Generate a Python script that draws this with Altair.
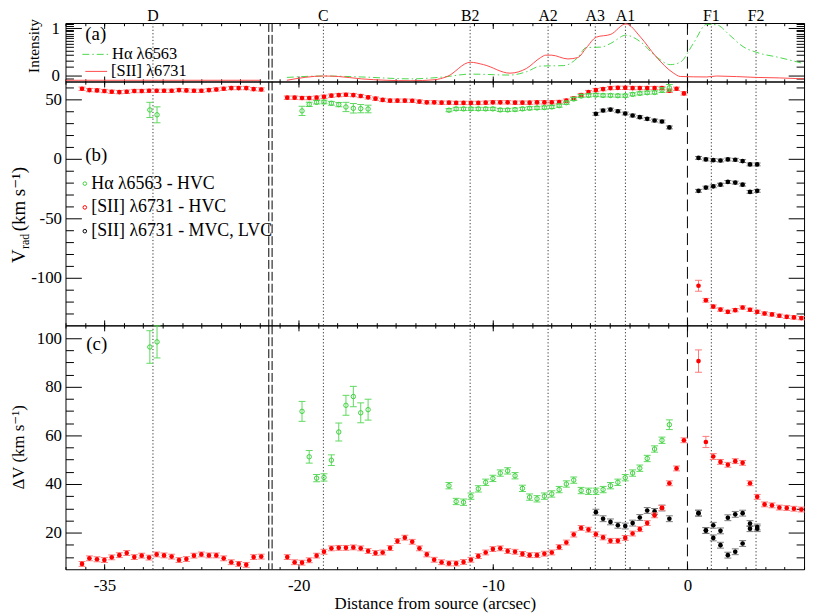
import altair as alt
import pandas as pd

FONT = "'Liberation Serif', 'Times New Roman', 'DejaVu Serif', serif"

# ---------------- layout / break ----------------
# Points left of the axis break are drawn shifted by +5 arcsec (label -35 sits at drawn -30)
BREAK_SHIFT = 5.0
BREAK_LINES = [-21.54, -21.37]
SOURCE_X = [0.0]

KNOT_NAMES = ["D", "C", "B2", "A2", "A3", "A1", "F1", "F2"]
KNOT_X = [-32.5, -18.73, -11.18, -7.17, -4.74, -3.19, 1.23, 3.53]

X_MAJOR = [-30, -20, -10, 0]
X_MAJOR_LABELS = ["-35", "-20", "-10", "0"]
X_MINOR = list(range(-32, 7))

# ---------------- panel (a): intensity profiles ----------------
SII_I_LEFT_X = [-37.0, -26.96]
SII_I_LEFT = [-0.10, -0.10]
SII_I_X = [-20.61, -18.73, -17.97, -16.78, -14.23, -13.04, -12.36, -11.17, -10.49, -9.13,
           -8.28, -7.55, -7.29, -7.0, -6.15, -5.64, -5.21, -4.69, -3.94, -3.17,
           -2.41, -1.64, -0.71, -0.37, 0.99, 1.50, 3.55, 4.73, 6.0]
SII_I = [-0.10, -0.01, -0.02, -0.07, -0.11, -0.09, -0.02, 0.28, 0.23, 0.05,
         0.15, 0.38, 0.43, 0.43, 0.35, 0.38, 0.58, 0.81, 0.87, 1.09,
         0.81, 0.41, 0.05, -0.02, -0.03, -0.01, -0.04, -0.05, -0.07]
HA_I_X = [-20.61, -18.73, -16.78, -14.23, -12.53, -11.17, -9.13, -8.28, -7.55, -6.36,
          -5.64, -5.21, -4.43, -3.94, -3.17, -2.41, -1.64, -0.88, -0.37, 0.31,
          0.99, 1.50, 2.18, 2.86, 3.55, 4.73, 6.0]
HA_I = [-0.04, -0.01, -0.03, -0.07, -0.03, 0.03, 0.01, 0.08, 0.20, 0.21,
        0.38, 0.59, 0.60, 0.68, 0.85, 0.71, 0.41, 0.23, 0.28, 0.68,
        1.08, 1.07, 0.85, 0.61, 0.49, 0.38, 0.25]

# ---------------- slit positions (arcsec from source) ----------------
X_LEFT = [-36.15, -35.77, -35.38, -35.00, -34.62, -34.23, -33.85, -33.46, -33.08, -32.70,
          -32.31, -31.93, -31.54, -31.16, -30.78, -30.39, -30.01, -29.62, -29.24, -28.86,
          -28.47, -28.09, -27.70, -27.32, -26.93]
X_RIGHT = [-20.59, -20.21, -19.83, -19.46, -19.08, -18.70, -18.32, -17.94, -17.57, -17.19,
           -16.81, -16.43, -16.05, -15.68, -15.30, -14.92, -14.54, -14.16, -13.79, -13.41,
           -13.03, -12.65, -12.27, -11.90, -11.52, -11.14, -10.76, -10.38, -10.01, -9.63,
           -9.25, -8.87, -8.49, -8.12, -7.74, -7.36, -6.98, -6.60, -6.23, -5.85,
           -5.47, -5.09, -4.71, -4.34, -3.96, -3.58, -3.20, -2.82, -2.45, -2.07,
           -1.69, -1.31, -0.93, -0.56, -0.18]
X_AFTER = [0.57, 0.95, 1.33, 1.70, 2.08, 2.46, 2.84, 3.22, 3.59, 3.97, 4.35, 4.73, 5.11, 5.48, 5.86]

# ---------------- [SII] 6731 HVC ----------------
SII_V_LEFT = [58.9, 57.8, 57.5, 57.0, 56.4, 56.1, 56.4, 57.0, 57.0, 57.2, 57.2, 57.2, 57.2,
              57.8, 57.5, 57.2, 57.2, 57.8, 58.3, 58.9, 59.5, 59.5, 59.5, 58.6, 58.3]
SII_V_RIGHT = [51.4, 51.4, 51.1, 51.1, 51.4, 52.2, 53.1, 53.6, 53.9, 53.6,
               52.8, 51.7, 50.6, 49.5, 48.9, 48.9, 48.9, 48.8, 48.1, 47.5,
               47.5, 47.2, 47.2, 47.0, 47.0, 47.0, 47.0, 47.2, 47.5, 47.5,
               47.5, 47.2, 47.2, 47.2, 47.5, 47.5, 47.5, 47.8, 48.9, 50.8,
               53.6, 56.1, 57.8, 58.6, 59.5, 59.7, 59.7, 59.5, 59.5, 59.5,
               59.5, 59.5, 57.2, 58.9, 55.0]
SII_V_AFTER = [-106.7, -118.9, -124.2, -126.7, -128.6, -127.2, -125.0, -126.9, -128.6, -130.0,
               -130.8, -131.9, -132.8, -133.3, -133.9]
SII_V_ERR = 1.4
SII_V_AFTER_ERR = [4.6, 1.6, 1.4, 1.4, 1.4, 1.4, 1.4, 1.4, 1.4, 1.4, 1.4, 1.4, 1.4, 1.4, 1.4]

SII_D_LEFT = [7.1, 9.4, 9.0, 8.7, 9.8, 10.7, 11.6, 9.9, 10.5, 9.7, 11.0, 10.6, 10.1,
              8.7, 9.1, 10.5, 11.0, 10.6, 10.6, 9.4, 7.8, 7.1, 6.7, 9.9, 10.1]
SII_D_RIGHT = [9.9, 7.8, 7.6, 8.6, 10.5, 12.1, 13.5, 13.7, 13.7, 13.9,
               13.5, 12.4, 11.6, 11.8, 13.6, 16.5, 17.9, 16.2, 13.5, 11.0,
               8.8, 7.8, 7.3, 7.3, 7.9, 8.8, 10.3, 11.8, 13.2, 13.5,
               12.4, 12.1, 11.2, 10.7, 10.7, 11.3, 11.8, 14.0, 15.9, 19.2,
               21.9, 21.2, 19.3, 18.0, 16.6, 16.6, 17.8, 19.6, 21.4, 23.9,
               27.1, 30.2, 40.3, 46.4, 58.0]
SII_D_AFTER = [90.6, 57.3, 51.3, 49.1, 47.9, 49.4, 48.7, 40.3, 34.7, 31.6, 31.2, 30.3, 30.1, 29.8, 29.5]
SII_D_ERR = 1.0
SII_D_AFTER_ERR = [4.6, 2.3, 1.2, 1.0, 1.0, 1.0, 1.0, 1.0, 1.0, 1.0, 1.0, 1.0, 1.0, 1.0, 1.0]

# ---------------- H-alpha HVC ----------------
HA_X_LEFT = [-32.66, -32.29]
HA_X_C = X_RIGHT[2:12]
HA_X_MAIN = X_RIGHT[22:53]
HA_V_LEFT = [41.1, 37.0]
HA_V_LEFT_ERR = [6.4, 6.7]
HA_V_C = [40.3, 45.8, 47.5, 47.8, 46.7, 45.6, 43.6, 42.5, 42.2, 41.9]
HA_V_C_ERR = [3.9, 1.8, 1.5, 1.5, 1.6, 1.8, 3.9, 4.0, 3.5, 3.2]
HA_V_MAIN = [40.9, 42.0, 42.0, 42.0, 42.0, 42.0, 42.0, 41.1, 41.1, 41.4,
             42.0, 42.5, 42.8, 43.1, 43.6, 44.7, 47.2, 50.3, 52.8, 53.3,
             53.6, 53.3, 53.3, 53.1, 53.1, 54.2, 55.0, 55.6, 55.8, 57.8, 59.7]
HA_V_MAIN_ERR = [1.3] * 29 + [2.0, 2.8]
HA_D_LEFT = [96.4, 98.5]
HA_D_LEFT_ERR = [6.7, 6.6]
HA_D_C = [69.9, 51.2, 42.4, 42.7, 49.8, 61.4, 72.4, 76.0, 69.3, 70.6]
HA_D_C_ERR = [4.1, 2.6, 1.5, 1.5, 2.2, 3.7, 4.1, 4.2, 4.1, 4.3]
HA_D_MAIN = [39.3, 32.8, 32.5, 35.0, 38.0, 40.7, 42.3, 44.5, 45.4, 43.4,
             38.2, 34.6, 33.9, 35.0, 35.9, 37.7, 40.0, 41.6, 37.3, 37.0,
             37.0, 37.7, 39.3, 40.7, 42.6, 44.5, 46.5, 50.5, 54.4, 58.0, 64.4]
HA_D_MAIN_ERR = [1.3] * 30 + [2.0]

# ---------------- [SII] 6731 MVC, LVC ----------------
MVC_X_A = X_RIGHT[42:53]
MVC_X_F = X_AFTER[:9]
MVC_V_A = [37.8, 40.6, 41.4, 40.0, 38.1, 36.4, 35.0, 33.6, 32.2, 31.4, 26.4]
MVC_V_F1 = [0.8, -0.5, -1.1, -1.4, -0.5, -0.8, -1.9, -4.7, -4.7]
MVC_V_F2 = [-26.9, -24.2, -23.1, -21.7, -19.4, -20.0, -21.7, -27.8, -26.9]
MVC_D_A = [28.4, 25.7, 24.4, 23.0, 22.7, 23.9, 26.2, 29.1, 28.7, 30.1, 25.7]
MVC_D_F1 = [28.0, 20.9, 23.0, 20.7, 26.1, 27.5, 28.0, 23.7, 22.3]
MVC_D_F2 = [28.0, 20.8, 17.8, 14.8, 10.7, 12.1, 15.5, 21.6, 21.6]
MVC_ERR = 1.2

# ---------------- texts ----------------
LEGEND_A = ["H\u03b1 \u03bb6563", "[SII] \u03bb6731"]
LEGEND_B = ["H\u03b1 \u03bb6563 - HVC", "[SII] \u03bb6731 - HVC", "[SII] \u03bb6731 - MVC, LVC"]
TAGS = ["(a)", "(b)", "(c)"]
X_TITLE = "Distance from source (arcsec)"

GREEN = "#3fcf3f"
GREEN_ERR = "#5fd95f"
GREEN_LINE = "#4cd84c"
RED = "#ff0000"
RED_ERR = "#ff7a7a"
RED_LINE = "#ff4a4a"
BLACK = "#000000"
BLACK_ERR = "#7a7a7a"

W = 745
HA_H, HB_H, HC_H = 59, 246, 246
DOM_A = [-0.126, 1.108]
DOM_B = [-140, 65]
DOM_C = [4.9, 105.3]

XSCALE = alt.Scale(domain=[-32, 6], nice=False, zero=False)
ONE = pd.DataFrame({"k": [0]})


def px(v):
    return v + BREAK_SHIFT if v < -24 else v


def frame(xs, ys, errs):
    if not isinstance(errs, list):
        errs = [errs] * len(xs)
    return pd.DataFrame({
        "x": [px(v) for v in xs],
        "y": ys,
        "lo": [y - e for y, e in zip(ys, errs)],
        "hi": [y + e for y, e in zip(ys, errs)],
    })


def yscale(dom):
    return alt.Scale(domain=dom, nice=False, zero=False)


def series(df, dom, color, ecolor, filled, size):
    base = alt.Chart(df)
    xe = alt.X("x:Q", scale=XSCALE, axis=None)
    ys = yscale(dom)
    bar = base.mark_rule(color=ecolor, strokeWidth=1).encode(
        x=xe, y=alt.Y("lo:Q", scale=ys, axis=None), y2="hi:Q")
    c1 = base.mark_tick(orient="horizontal", size=7, thickness=1, color=ecolor, opacity=1).encode(
        x=xe, y=alt.Y("lo:Q", scale=ys, axis=None))
    c2 = base.mark_tick(orient="horizontal", size=7, thickness=1, color=ecolor, opacity=1).encode(
        x=xe, y=alt.Y("hi:Q", scale=ys, axis=None))
    if filled:
        pt = base.mark_circle(size=size, color=color, opacity=1)
    else:
        pt = base.mark_point(shape="circle", filled=False, size=size, color=color,
                             strokeWidth=1, opacity=1)
    pt = pt.encode(x=xe, y=alt.Y("y:Q", scale=ys, axis=None))
    return [bar, c1, c2, pt]


def tick_axis(orient, vals, length):
    return alt.Axis(orient=orient, values=vals, labels=False, ticks=True,
                    tickSize={"expr": str(-length)}, tickColor="black", tickWidth=1,
                    domain=False, grid=False, title=None)


def axis_layers(dom, y_major, y_minor, lab_pad, x_labels):
    df = pd.DataFrame({"x": [0.0], "y": [float(y_major[0])]})
    ys = yscale(dom)

    def carrier(xa, ya):
        return alt.Chart(df).mark_point(opacity=0).encode(
            x=alt.X("x:Q", scale=XSCALE, axis=xa),
            y=alt.Y("y:Q", scale=ys, axis=ya))

    ylab = alt.Axis(orient="left", values=y_major, labelExpr="'' + datum.value", ticks=False,
                    domain=False, grid=False, title=None, labelFont=FONT, labelFontSize=17,
                    labelColor="black", labelPadding=lab_pad)
    xlab = None
    if x_labels:
        expr = "'" + X_MAJOR_LABELS[-1] + "'"
        for v, t in zip(X_MAJOR[:-1][::-1], X_MAJOR_LABELS[:-1][::-1]):
            expr = "datum.value == %s ? '%s' : %s" % (v, t, expr)
        xlab = alt.Axis(orient="bottom", values=X_MAJOR, labelExpr=expr, ticks=False,
                        domain=False, grid=False, labelFont=FONT, labelFontSize=17,
                        labelColor="black", labelPadding=8.5, labelFlush=False,
                        title=X_TITLE, titleFont=FONT, titleFontSize=17,
                        titleFontWeight="normal", titleColor="black", titlePadding=2)
    return [
        carrier(xlab, ylab),
        carrier(tick_axis("bottom", X_MAJOR, 5.5), tick_axis("left", y_major, 16)),
        carrier(tick_axis("bottom", X_MINOR, 2.7), tick_axis("left", y_minor, 8)),
        carrier(tick_axis("top", X_MAJOR, 5.5), tick_axis("right", y_major, 16)),
        carrier(tick_axis("top", X_MINOR, 2.7), tick_axis("right", y_minor, 8)),
    ]


def guides():
    knots = pd.DataFrame({"x": [px(v) for v in KNOT_X]})
    src = pd.DataFrame({"x": SOURCE_X})
    brk = pd.DataFrame({"x": BREAK_LINES})
    xe = alt.X("x:Q", scale=XSCALE, axis=None)
    return [
        alt.Chart(knots).mark_rule(color="#333333", strokeWidth=1, strokeDash=[1.2, 2.2]).encode(x=xe),
        alt.Chart(src).mark_rule(color="black", strokeWidth=1, strokeDash=[12, 5]).encode(x=xe),
        alt.Chart(brk).mark_rule(color="black", strokeWidth=1, strokeDash=[9, 3]).encode(x=xe),
    ]


def label(text, x, y, size=17, angle=None, align="left", baseline="middle"):
    kw = dict(text=text, font=FONT, fontSize=size, align=align, baseline=baseline, color="black")
    if angle is not None:
        kw["angle"] = angle
    return alt.Chart(ONE).mark_text(**kw).encode(x=alt.value(x), y=alt.value(y))


# ---------------- panel (a) ----------------
ys_a = yscale(DOM_A)
xe = alt.X("x:Q", scale=XSCALE, axis=None)
sii_left_df = pd.DataFrame({"x": [px(v) for v in SII_I_LEFT_X], "y": SII_I_LEFT})
sii_df = pd.DataFrame({"x": SII_I_X, "y": SII_I})
ha_df = pd.DataFrame({"x": HA_I_X, "y": HA_I})
knot_df = pd.DataFrame({"x": [px(v) for v in KNOT_X], "name": KNOT_NAMES})

layers_a = axis_layers(DOM_A, [0, 1],
                       [-0.067, 0.187, 0.32, 0.433, 0.52, 0.6, 0.667, 0.733, 0.787, 0.84,
                        0.887, 0.933, 0.967, 1.04, 1.087], 6, False)
layers_a += guides()
layers_a += [
    alt.Chart(sii_left_df).mark_line(color=RED_LINE, strokeWidth=1, clip=True).encode(
        x=xe, y=alt.Y("y:Q", scale=ys_a, axis=None)),
    alt.Chart(ha_df).mark_line(color=GREEN_LINE, strokeWidth=1, strokeDash=[7, 3, 1.5, 3],
                               interpolate="monotone", clip=True).encode(
        x=xe, y=alt.Y("y:Q", scale=ys_a, axis=None)),
    alt.Chart(sii_df).mark_line(color=RED_LINE, strokeWidth=1, interpolate="monotone",
                                clip=True).encode(
        x=xe, y=alt.Y("y:Q", scale=ys_a, axis=None)),
    alt.Chart(knot_df).mark_text(font=FONT, fontSize=16, baseline="alphabetic", align="center",
                                 color="black").encode(x=xe, y=alt.value(-1.8), text="name:N"),
    label(TAGS[0], 20, 11, size=19),
    alt.Chart(ONE).mark_rule(color=GREEN_LINE, strokeWidth=1, strokeDash=[7, 3, 1.5, 3]).encode(
        x=alt.value(17), x2=alt.value(43), y=alt.value(31.6)),
    label(LEGEND_A[0], 47, 31.6, size=16.5),
    alt.Chart(ONE).mark_rule(color=RED_LINE, strokeWidth=1).encode(
        x=alt.value(20), x2=alt.value(42), y=alt.value(48.8)),
    label(LEGEND_A[1], 46, 48.8, size=16.5),
    label("Intensity", -26.6, 23.2, size=15.5, angle=270, align="center", baseline="alphabetic"),
]
panel_a = alt.layer(*layers_a).properties(width=W, height=HA_H).resolve_axis(
    x="independent", y="independent")

# ---------------- panel (b) ----------------
sii_b = pd.concat([frame(X_LEFT, SII_V_LEFT, SII_V_ERR), frame(X_RIGHT, SII_V_RIGHT, SII_V_ERR),
                   frame(X_AFTER, SII_V_AFTER, SII_V_AFTER_ERR)])
ha_b = pd.concat([frame(HA_X_LEFT, HA_V_LEFT, HA_V_LEFT_ERR), frame(HA_X_C, HA_V_C, HA_V_C_ERR),
                  frame(HA_X_MAIN, HA_V_MAIN, HA_V_MAIN_ERR)])
mvc_b = pd.concat([frame(MVC_X_A, MVC_V_A, MVC_ERR), frame(MVC_X_F, MVC_V_F1, MVC_ERR),
                   frame(MVC_X_F, MVC_V_F2, MVC_ERR)])

layers_b = axis_layers(DOM_B, [-100, -50, 0, 50],
                       [-130, -120, -110, -90, -80, -70, -60, -40, -30, -20, -10, 10, 20, 30, 40, 60],
                       4, False)
layers_b += guides()
layers_b += series(mvc_b, DOM_B, BLACK, BLACK_ERR, True, 22)
layers_b += series(sii_b, DOM_B, RED, RED_ERR, True, 22)
layers_b += series(ha_b, DOM_B, GREEN, GREEN_ERR, False, 20)
layers_b += [label(TAGS[1], 20, 74.5, size=19)]
for k, (txt, col) in enumerate(zip(LEGEND_B, [GREEN, RED, BLACK])):
    yy = 103 + 24 * k
    layers_b.append(alt.Chart(ONE).mark_point(shape="circle", filled=False, size=13, color=col,
                                              strokeWidth=1, opacity=1).encode(
        x=alt.value(19.5), y=alt.value(yy)))
    layers_b.append(label(txt, 26, yy, size=18))
layers_b += [
    label("V", -41, 183, size=19, angle=270, align="left", baseline="alphabetic"),
    label("rad", -36.5, 169, size=12, angle=270, align="left", baseline="alphabetic"),
    label("(km s\u207b\u00b9)", -41, 151, size=19, angle=270, align="left", baseline="alphabetic"),
]
panel_b = alt.layer(*layers_b).properties(width=W, height=HB_H).resolve_axis(
    x="independent", y="independent")

# ---------------- panel (c) ----------------
sii_c = pd.concat([frame(X_LEFT, SII_D_LEFT, SII_D_ERR), frame(X_RIGHT, SII_D_RIGHT, SII_D_ERR),
                   frame(X_AFTER, SII_D_AFTER, SII_D_AFTER_ERR)])
ha_c = pd.concat([frame(HA_X_LEFT, HA_D_LEFT, HA_D_LEFT_ERR), frame(HA_X_C, HA_D_C, HA_D_C_ERR),
                  frame(HA_X_MAIN, HA_D_MAIN, HA_D_MAIN_ERR)])
mvc_c = pd.concat([frame(MVC_X_A, MVC_D_A, MVC_ERR), frame(MVC_X_F, MVC_D_F1, MVC_ERR),
                   frame(MVC_X_F, MVC_D_F2, MVC_ERR)])

layers_c = axis_layers(DOM_C, [20, 40, 60, 80, 100],
                       [10, 15, 25, 30, 35, 45, 50, 55, 65, 70, 75, 85, 90, 95], 4, True)
layers_c += guides()
layers_c += series(mvc_c, DOM_C, BLACK, BLACK_ERR, True, 22)
layers_c += series(sii_c, DOM_C, RED, RED_ERR, True, 22)
layers_c += series(ha_c, DOM_C, GREEN, GREEN_ERR, False, 20)
layers_c += [
    label(TAGS[2], 21, 19, size=19),
    label("\u0394V (km s\u207b\u00b9)", -42, 123, size=17, angle=270, align="center",
          baseline="alphabetic"),
]
panel_c = alt.layer(*layers_c).properties(width=W, height=HC_H).resolve_axis(
    x="independent", y="independent")

chart = alt.vconcat(panel_a, panel_b, panel_c, spacing=0, bounds="flush").properties(
    padding={"left": 1, "top": -3.5, "right": 3, "bottom": 0},
    background="white",
).configure_view(stroke="black", strokeWidth=1)

chart.save("out.html", embed_options={"renderer": "svg", "actions": False})
